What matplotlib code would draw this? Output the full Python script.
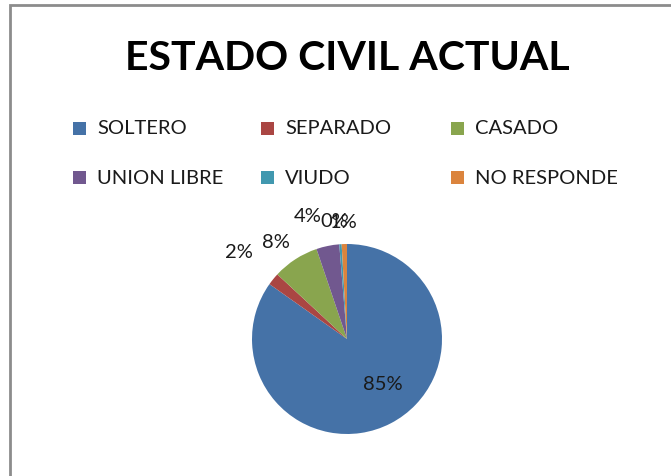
import numpy as np
import matplotlib.pyplot as plt
from matplotlib.patches import Rectangle

# data
categories = ['SOLTERO', 'SEPARADO', 'CASADO', 'UNION LIBRE', 'VIUDO', 'NO RESPONDE']
values = [84.8, 2.1, 7.9, 3.9, 0.4, 0.9]
colors = ['#4572A7', '#AA4643', '#89A54E', '#71588F', '#4198AF', '#DB843D']
title = 'ESTADO CIVIL ACTUAL'

W, H = 671, 477
plt.rcParams['font.family'] = ['Lato', 'DejaVu Sans']

fig = plt.figure(figsize=(W / 100, H / 100), dpi=100)

def fx(px):
    return px / W

def fy(py):
    return 1 - py / H

# chart frame (cut off on right and bottom like the screenshot)
fig.add_artist(Rectangle((fx(10), fy(H + 20)), fx(W + 20), fy(6) - fy(H + 20),
                         transform=fig.transFigure, fill=False,
                         edgecolor='#8c8c8c', linewidth=2))

fig.text(fx(347), fy(58), title, ha='center', va='center',
         fontsize=29.5, fontweight='bold', color='black')

# legend laid out like Excel: 3 equal columns, filled row by row
col_x = [73, 261, 451]
row_y = [129, 178]
for i, (lab, c) in enumerate(zip(categories, colors)):
    x = col_x[i % 3]
    y = row_y[i // 3]
    fig.add_artist(Rectangle((fx(x), fy(y + 6.5)), fx(13), fy(y - 6.5) - fy(y + 6.5),
                             transform=fig.transFigure, facecolor=c, edgecolor='none'))
    fig.text(fx(x + 24), fy(y), lab, ha='left', va='center', fontsize=14.5, color='#1a1a1a')

# pie
cx, cy, r = 347, 340, 95
ax = fig.add_axes([fx(cx - r), fy(cy + r), fx(2 * r), fy(cy - r) - fy(cy + r)])
wedges, _ = ax.pie(values, colors=colors, startangle=90, counterclock=False,
                   radius=1, center=(0, 0), frame=True)
ax.set_xlim(-1, 1)
ax.set_ylim(-1, 1)
ax.axis('off')

total = sum(values)
# label distance and angle nudge per slice (Excel best-fit placement)
label_r = [0.6, 1.46, 1.27, 1.36, 1.25, 1.24]
label_da = [12, 0, 3, 6, 2, 0]
for w, v, lr, da in zip(wedges, values, label_r, label_da):
    mid = np.deg2rad((w.theta1 + w.theta2) / 2 + da)
    ax.text(lr * np.cos(mid), lr * np.sin(mid), f'{v / total * 100:.0f}%',
            ha='center', va='center', fontsize=14.5, color='#1a1a1a', clip_on=False)

fig.savefig('out.png', dpi=100)
